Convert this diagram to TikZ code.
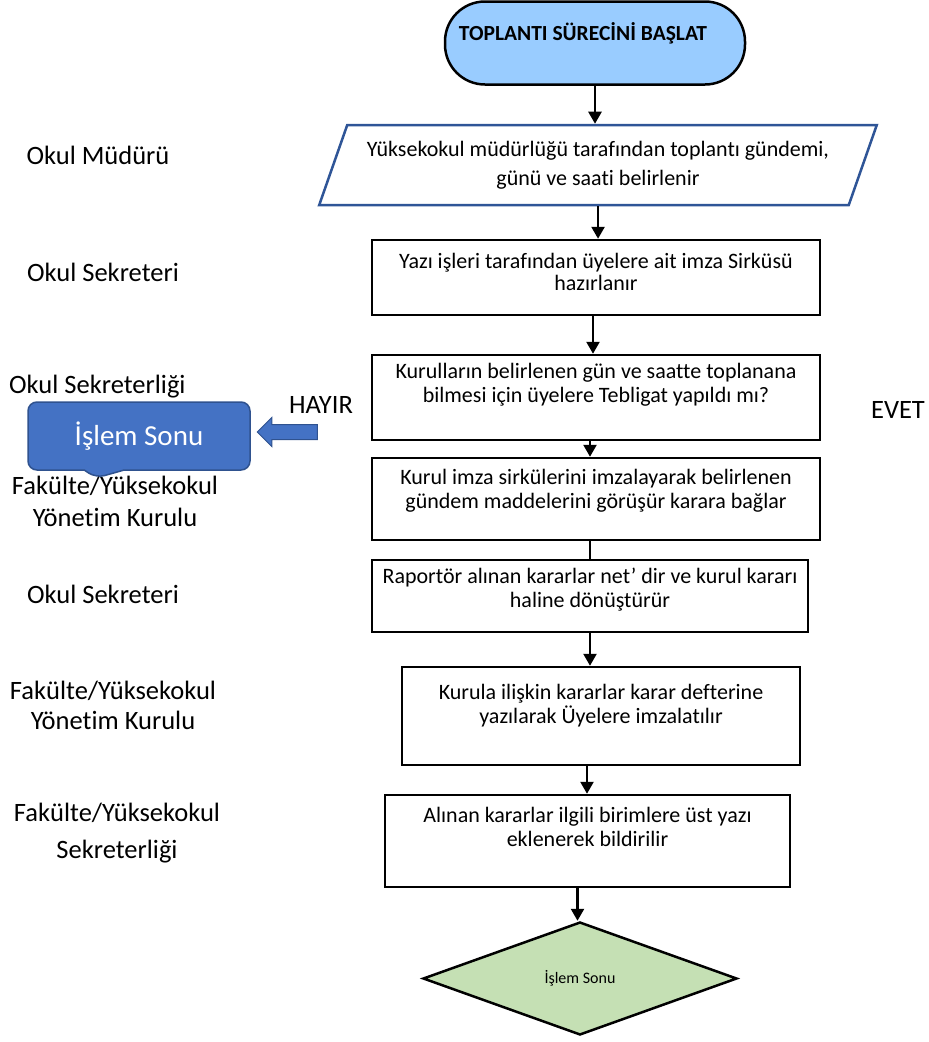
\documentclass[tikz,border=0pt]{standalone}
\usepackage{fontspec}
\setmainfont{Carlito}[Ligatures={NoCommon}]
\usetikzlibrary{shapes,shapes.geometric,shapes.callouts,shapes.arrows,arrows.meta,positioning}
\definecolor{startblue}{HTML}{99CCFF}
\definecolor{paraedge}{HTML}{2F5597}
\definecolor{noteblue}{HTML}{4472C4}
\definecolor{noteedge}{HTML}{2F528F}
\definecolor{endgreen}{HTML}{C5E0B4}
\tikzset{basic/.style={draw,line width=2.5pt,fill=white,inner sep=0pt}}
\tikzset{procbox/.style={basic,rectangle}}
\tikzset{boxtext/.style={anchor=north,align=center,inner sep=0pt,font=\fontsize{22}{24.5}\selectfont}}
\tikzset{role/.style={align=center,inner sep=0pt,font=\fontsize{26.5}{31}\selectfont}}
\tikzset{arrow/.style={draw,line width=2.5pt,-{Triangle[width=13pt,length=12pt]}}}
\tikzset{link/.style={draw,line width=2.5pt}}

\begin{document}
\begin{tikzpicture}[x=1pt,y=-1pt]
    \useasboundingbox (0,0) rectangle (929,1042);

    % main flow
    \node[basic,rectangle,rounded corners=40pt,fill=startblue,minimum width=300pt,minimum height=83pt,
          label={[anchor=west,inner sep=0pt,xshift=15pt,yshift=10pt,font=\fontsize{21.5}{24}\selectfont\bfseries]west:TOPLANTI SÜRECİNİ BAŞLAT}]
          (start) at (595,43) {};
    \node[basic,trapezium,trapezium left angle=62,trapezium right angle=118,trapezium stretches=true,
          draw=paraedge,minimum width=560pt,minimum height=80pt,align=center,
          font=\fontsize{22}{24.5}\selectfont] (b1) at (598,165)
          {Yüksekokul müdürlüğü tarafından toplantı gündemi,\\[5pt]günü ve saati belirlenir};
    \node[procbox,minimum width=448pt,minimum height=75pt,
          label={[boxtext,label distance=-14pt,font=\fontsize{22}{22.5}\selectfont]north:{Yazı işleri tarafından üyelere ait imza Sirküsü\\hazırlanır}}]
          (b2) at (596,277.5) {};
    \node[procbox,minimum width=448pt,minimum height=85pt,
          label={[boxtext,label distance=-9pt]north:{Kurulların belirlenen gün ve saatte toplanana\\bilmesi için üyelere Tebligat yapıldı mı?}}]
          (b3) at (596,397.5) {};
    \node[procbox,minimum width=448pt,minimum height=82pt,
          label={[boxtext,label distance=-12pt]north:{Kurul imza sirkülerini imzalayarak belirlenen\\gündem maddelerini görüşür karara bağlar}}]
          (b4) at (596,499) {};
    \node[procbox,minimum width=436pt,minimum height=72pt,
          label={[boxtext,label distance=-9pt]north:{Raportör alınan kararlar net’ dir ve kurul kararı\\haline dönüştürür}}]
          (b5) at (590,596) {};
    \node[procbox,minimum width=398pt,minimum height=98pt,
          label={[boxtext,label distance=-18pt]north:{Kurula ilişkin kararlar karar defterine\\yazılarak Üyelere imzalatılır}}]
          (b6) at (601,716) {};
    \node[procbox,minimum width=405pt,minimum height=92pt,
          label={[boxtext,label distance=-13pt]north:{Alınan kararlar ilgili birimlere üst yazı\\eklenerek bildirilir}}]
          (b7) at (587.5,841) {};
    \node[basic,diamond,fill=endgreen,minimum width=314pt,minimum height=113pt,
          font=\fontsize{16}{19}\selectfont] (stop) at (580,978.5) {İşlem Sonu};

    % roles on the left
    \node[role] (r1) at (98,155) {Okul Müdürü};
    \node[role] (r2) at (103,272) {Okul Sekreteri};
    \node[role,anchor=west] (r3) at (9,387) {Okul Sekreterliği};
    \node[role,font=\fontsize{26.5}{32}\selectfont] (r4) at (115,501) {Fakülte/Yüksekokul\\Yönetim Kurulu};
    \node[role] (r5) at (103,594) {Okul Sekreteri};
    \node[role,font=\fontsize{26.5}{30}\selectfont] (r6) at (113,705) {Fakülte/Yüksekokul\\Yönetim Kurulu};
    \node[role,font=\fontsize{26.5}{37}\selectfont] (r7) at (117,833.5) {Fakülte/Yüksekokul\\Sekreterliği};

    % decision answers
    \node[role] (no) at (321,405) {HAYIR};
    \node[role] (yes) at (898,410) {EVET};
    \node[rectangle callout,callout absolute pointer={(96,478)},callout pointer width=40pt,
          rounded corners=9pt,fill=noteblue,draw=noteedge,line width=1.5pt,text=white,
          minimum width=222pt,minimum height=68pt,inner sep=0pt,font=\fontsize{29}{34}\selectfont]
          (noend) at (139,436) {İşlem Sonu};
    \node[single arrow,shape border rotate=180,fill=noteblue,draw=noteedge,line width=1pt,
          minimum height=60pt,minimum width=29pt,inner sep=7pt,single arrow head extend=7pt]
          (noarrow) at (291,432) {};

    % connectors
    \path[arrow] (start.south) -- (start.south |- b1.north);
    \path[arrow] (b1.south) -- (b1.south |- b2.north);
    \path[arrow] ([xshift=-3pt]b2.south) -- ([xshift=-3pt]b2.south |- b3.north);
    \path[arrow] ([xshift=-6pt]b3.south) -- ([xshift=-6pt]b3.south |- b4.north);
    \path[link] ([xshift=-6pt]b4.south) -- ([xshift=-6pt]b4.south |- b5.north);
    \path[arrow] (b5.south) -- (b5.south |- b6.north);
    \path[arrow] ([xshift=-14pt]b6.south) -- ([xshift=-14pt]b6.south |- b7.north);
    \path[arrow] ([xshift=-10pt]b7.south) -- ([xshift=-10pt]b7.south |- stop.north);
\end{tikzpicture}
\end{document}
